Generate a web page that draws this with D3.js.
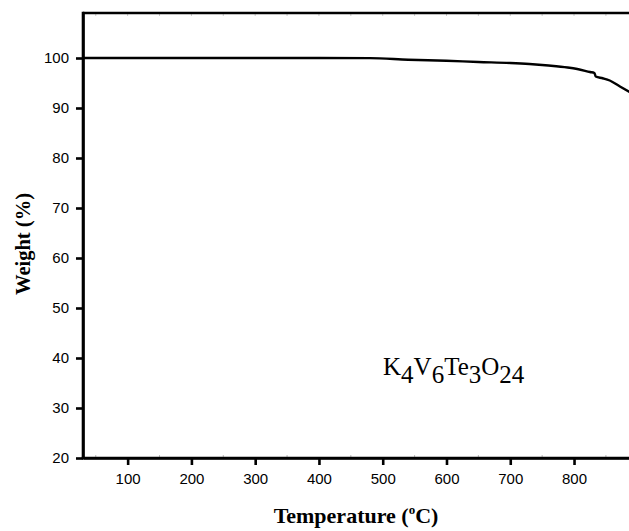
<!DOCTYPE html>
<html><head><meta charset="utf-8">
<script src="https://cdn.jsdelivr.net/npm/d3@7"></script>
<style>body{margin:0;background:#fff}svg{display:block}</style>
</head><body>
<svg id="c" width="629" height="531"></svg>
<script>
const temps   = [30, 100, 200, 300, 400, 480, 540, 600, 650, 700, 730, 760, 790, 805, 825, 832, 834, 845, 856, 872, 887];
const weights = [100, 100, 100, 100, 100, 99.97, 99.66, 99.44, 99.2, 99.0, 98.8, 98.5, 98.1, 97.8, 97.2, 97.0, 96.3, 95.95, 95.5, 94.3, 93.2];
const xTicks = [100, 200, 300, 400, 500, 600, 700, 800];
const yTicks = [20, 30, 40, 50, 60, 70, 80, 90, 100];
const xMinor = [50, 150, 250, 350, 450, 550, 650, 750, 850];

const svg = d3.select("#c");
const L = 83, R = 629, T = 13, B = 458;
const x = d3.scaleLinear().domain([30, 886.2]).range([L, R]);
const y = d3.scaleLinear().domain([20, 109]).range([B, T]);

// minor faint ticks
svg.append("g").selectAll("line").data(xMinor).join("line")
  .attr("x1", d => x(d)).attr("x2", d => x(d)).attr("y1", B - 3).attr("y2", B)
  .attr("stroke", "#bbb").attr("stroke-width", 1);
svg.append("g").selectAll("line").data(xTicks.concat(xMinor)).join("line")
  .attr("x1", d => x(d)).attr("x2", d => x(d)).attr("y1", T).attr("y2", T + 3)
  .attr("stroke", "#ccc").attr("stroke-width", 1);

const xAxis = svg.append("g").attr("transform", `translate(0,${B})`)
  .call(d3.axisBottom(x).tickValues(xTicks).tickSize(7).tickPadding(8).tickSizeOuter(0));
const yAxis = svg.append("g").attr("transform", `translate(${L},0)`)
  .call(d3.axisLeft(y).tickValues(yTicks).tickSize(7).tickPadding(7).tickSizeOuter(0));
[xAxis, yAxis].forEach(g => {
  g.select(".domain").attr("stroke", "#000").attr("stroke-width", 2.6);
  g.selectAll(".tick line").attr("stroke", "#000").attr("stroke-width", 2.6);
  g.selectAll(".tick text").attr("fill", "#000")
    .style("font-family", "'Liberation Sans', Arial, sans-serif").style("font-size", "15px");
});
svg.append("line").attr("x1", L).attr("x2", R).attr("y1", T).attr("y2", T)
  .attr("stroke", "#000").attr("stroke-width", 2.6);
svg.append("line").attr("x1", L).attr("x2", L).attr("y1", T - 1.3).attr("y2", B + 1.3)
  .attr("stroke", "#000").attr("stroke-width", 2.6);
svg.append("line").attr("x1", L - 1.3).attr("x2", R).attr("y1", B).attr("y2", B)
  .attr("stroke", "#000").attr("stroke-width", 2.6);

const line = d3.line().x((d, i) => x(temps[i])).y(d => y(d)).curve(d3.curveMonotoneX);
svg.append("path").datum(weights).attr("d", line)
  .attr("fill", "none").attr("stroke", "#000").attr("stroke-width", 2.4);

svg.append("text").attr("x", 356).attr("y", 523).attr("text-anchor", "middle")
  .style("font-family", "'Liberation Serif', 'Times New Roman', serif").style("font-weight", "bold").style("font-size", "22px")
  .html('Temperature (<tspan dy="-9" font-size="13px">o</tspan><tspan dy="9">C)</tspan>');

svg.append("text").attr("transform", "translate(30,244) rotate(-90)").attr("text-anchor", "middle")
  .style("font-family", "'Liberation Serif', 'Times New Roman', serif").style("font-weight", "bold").style("font-size", "20.5px")
  .text("Weight (%)");

const f = svg.append("text").attr("x", 383).attr("y", 375)
  .style("font-family", "'Liberation Serif', 'Times New Roman', serif").style("font-size", "25px");
const parts = [["K",0],["4",1],["V",0],["6",1],["Te",0],["3",1],["O",0],["24",1]];
let prev = 0;
parts.forEach(([t, s]) => {
  const dy = (s ? 8 : 0) - prev; prev = s ? 8 : 0;
  f.append("tspan").attr("dy", dy).text(t);
});
</script>
</body></html>
